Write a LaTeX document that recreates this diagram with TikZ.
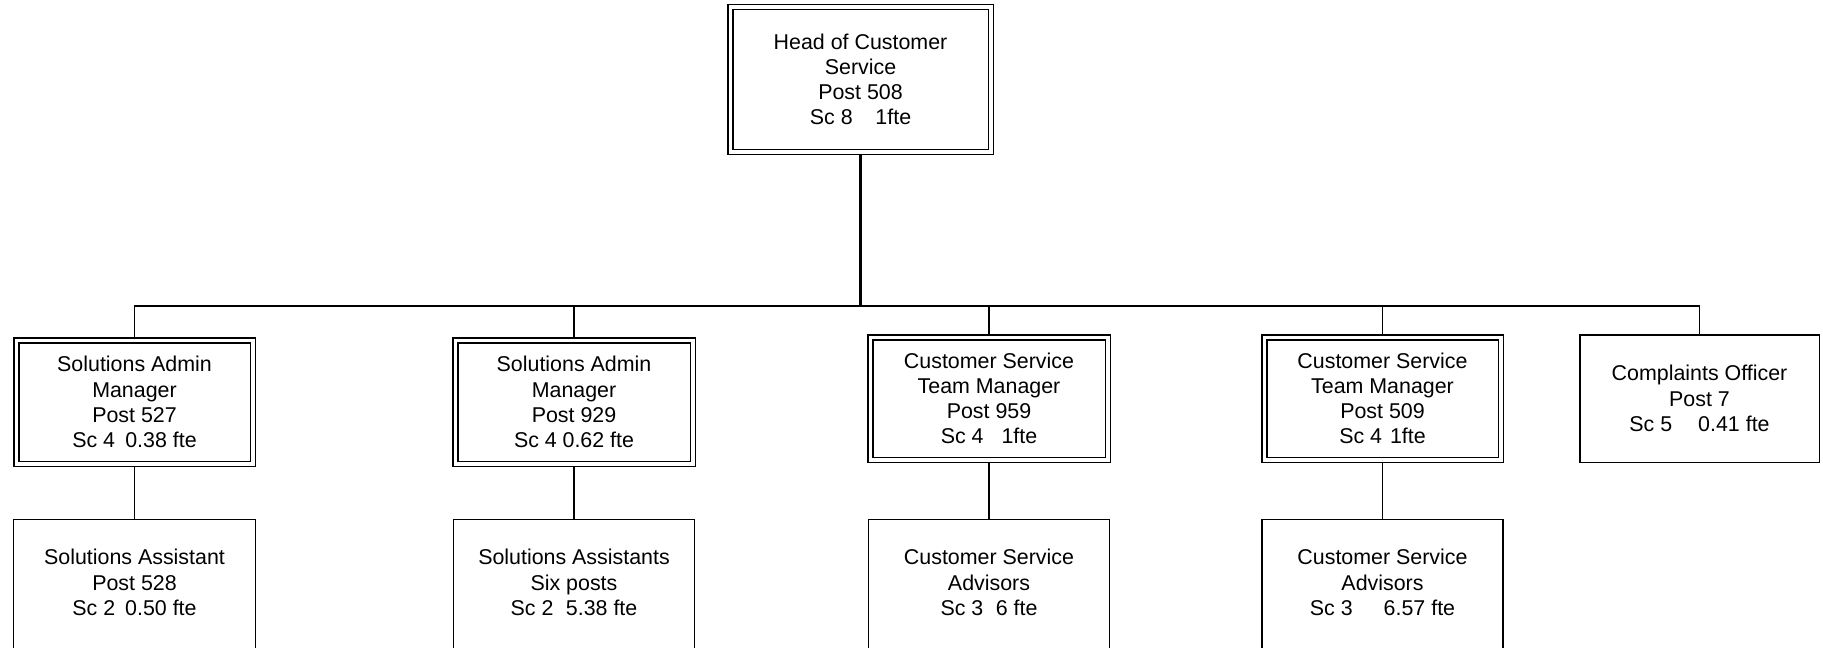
\documentclass[tikz,border=0pt]{standalone}
\usepackage{fontspec}
\setmainfont{Liberation Sans}
\pgfdeclarelayer{background}
\pgfsetlayers{background,main}
\begin{document}
\begin{tikzpicture}[x=0.5pt,y=-0.5pt,
  every node/.style={font=\fontsize{10.7pt}{12.6pt}\selectfont, align=center, inner sep=0pt},
  post/.style={draw, line width=0.75pt, rectangle},
  mgr/.style={post, double, double distance=1.75pt},
  link/.style={line width=0.75pt},
  stem/.style={line width=1.25pt}]
\useasboundingbox (0,0) rectangle (1823,647);

% head of the service
\node[mgr, minimum width=130.25pt, minimum height=72.25pt] (head) at (860.5,79.5)
  {Head of Customer\\Service\\Post 508\\Sc 8\hspace{11.4pt}1fte};

% managers and the complaints officer
\node[mgr, minimum width=118.25pt, minimum height=61.75pt] (b1) at (134.5,402)
  {Solutions Admin\\Manager\\Post 527\\Sc 4\hspace{5.1pt}0.38 fte};
\node[mgr, minimum width=118.75pt, minimum height=61.75pt] (b2) at (574,402)
  {Solutions Admin\\Manager\\Post 929\\Sc 4\hspace{2.9pt}0.62 fte};
\node[mgr, minimum width=118.75pt, minimum height=61.25pt] (b3) at (989,398.5)
  {Customer Service\\Team Manager\\Post 959\\Sc 4\hspace{9pt}1fte};
\node[mgr, minimum width=118.25pt, minimum height=61.25pt] (b4) at (1382.5,398.5)
  {Customer Service\\Team Manager\\Post 509\\Sc 4\hspace{4pt}1fte};
\node[post, minimum width=119.75pt, minimum height=63.75pt] (b5) at (1699.5,398.5)
  {Complaints Officer\\Post 7\\Sc 5\hspace{13pt}0.41 fte};

% staff teams (boxes run past the lower edge)
\node[minimum width=120.75pt, minimum height=62.75pt] (c1) at (134.5,582.5)
  {Solutions Assistant\\Post 528\\Sc 2\hspace{5pt}0.50 fte};
\node[minimum width=120.25pt, minimum height=62.75pt] (c2) at (574,582.5)
  {Solutions Assistants\\Six posts\\Sc 2\hspace{6.25pt}5.38 fte};
\node[minimum width=120.25pt, minimum height=62.75pt] (c3) at (989,582.5)
  {Customer Service\\Advisors\\Sc 3\hspace{6.25pt}6 fte};
\node[minimum width=120.25pt, minimum height=62.75pt] (c4) at (1382.5,582.5)
  {Customer Service\\Advisors\\Sc 3\hspace{15.5pt}6.57 fte};
\foreach \c in {c1,c2,c3,c4}
  \draw[line width=0.75pt] ([yshift=-20pt]\c.south west) rectangle (\c.north east);

\coordinate (bus) at (0,306);

\begin{pgfonlayer}{background}
  \draw[stem] (head.south) -- (head.south |- bus);
  \draw[link] (b1.north) -- (b1.north |- bus) -- (b5.north |- bus) -- (b5.north);
  \draw[link] (b2.north) -- (b2.north |- bus);
  \draw[link] (b3.north) -- (b3.north |- bus);
  \draw[link] (b4.north) -- (b4.north |- bus);
  \draw[link] (b1.south) -- (c1.north);
  \draw[link] (b2.south) -- (c2.north);
  \draw[link] (b3.south) -- (c3.north);
  \draw[link] (b4.south) -- (c4.north);
\end{pgfonlayer}
\end{tikzpicture}
\end{document}
